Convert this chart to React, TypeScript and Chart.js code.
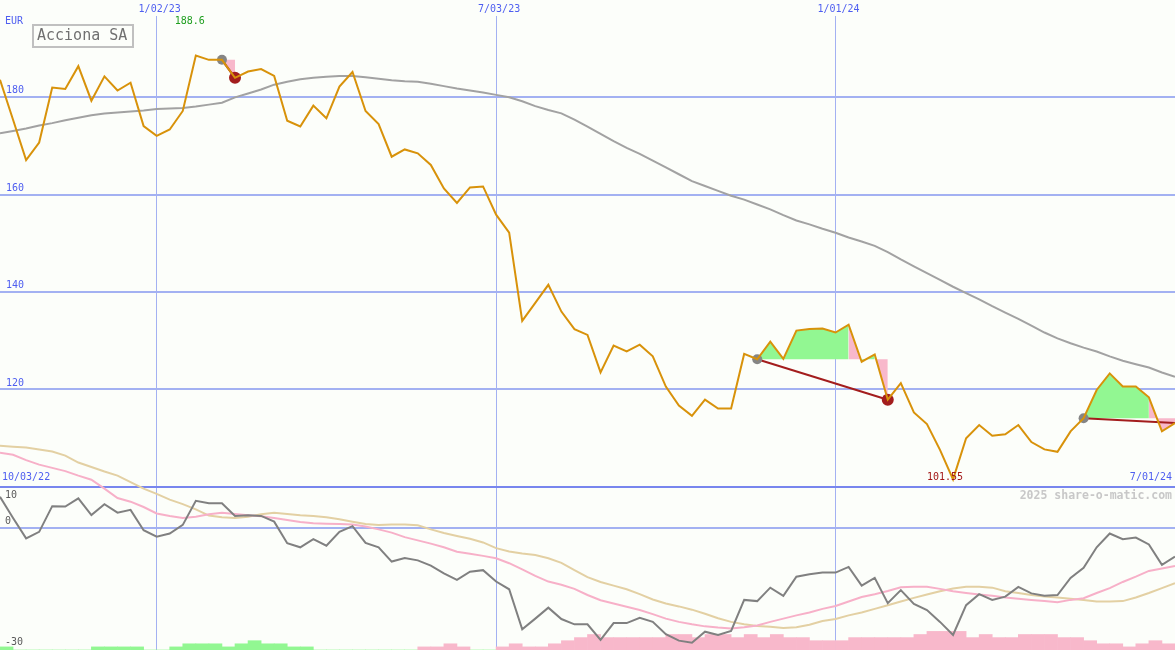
import React, { useEffect, useRef } from "react";
import { Chart, registerables } from "chart.js";

Chart.register(...registerables);

// ---------- data ----------
const weekIndex = Array.from({ length: 91 }, (_, i) => i);
const dateTickIndex = [12, 38, 64];
const dateTickLabels = ["1/02/23", "7/03/23", "1/01/24"];
const rangeStartLabel = "10/03/22";
const rangeEndLabel = "7/01/24";
const priceTicks = [100, 120, 140, 160, 180];
const oscTicks = [10, 0, -30];
const currencyLabel = "EUR";
const titleLabel = "Acciona SA";
const creditLabel = "2025 share-o-matic.com";

const price = [
  183.6, 175.4, 167.1, 170.7, 182.0, 181.7, 186.4, 179.3, 184.3, 181.4,
  183.0, 174.1, 172.1, 173.4, 177.2, 188.6, 187.7, 187.7, 184.0, 185.3,
  185.8, 184.4, 175.2, 174.0, 178.3, 175.7, 182.2, 185.2, 177.2, 174.5,
  167.8, 169.3, 168.5, 166.1, 161.3, 158.3, 161.5, 161.7, 155.9, 152.2,
  134.1, 137.8, 141.5, 136.0, 132.4, 131.2, 123.5, 129.0, 127.8, 129.2,
  126.8, 120.6, 116.7, 114.6, 117.9, 116.1, 116.1, 127.3, 126.2, 129.8,
  126.3, 132.1, 132.4, 132.5, 131.7, 133.3, 125.7, 127.2, 117.9, 121.3,
  115.3, 112.9, 107.6, 101.55, 110.0, 112.7, 110.5, 110.8, 112.7, 109.2,
  107.7, 107.2, 111.4, 114.1, 119.9, 123.3, 120.6, 120.6, 118.4, 111.4,
  113.1,
];

const movingAvg = [
  172.6, 173.1, 173.6, 174.2, 174.7, 175.3, 175.8, 176.3, 176.7, 176.9,
  177.1, 177.3, 177.6, 177.7, 177.8, 178.1, 178.5, 178.9, 180.0, 180.8,
  181.6, 182.6, 183.2, 183.7, 184.0, 184.2, 184.4, 184.4, 184.1, 183.8,
  183.5, 183.3, 183.2, 182.8, 182.3, 181.8, 181.4, 181.0, 180.5, 180.0,
  179.2, 178.2, 177.4, 176.7, 175.4, 174.0, 172.5, 171.0, 169.6, 168.4,
  167.0, 165.6, 164.2, 162.8, 161.8, 160.8, 159.8, 159.0, 158.0, 157.0,
  155.8, 154.7, 153.9, 153.0, 152.2, 151.2, 150.4, 149.5, 148.2, 146.7,
  145.3, 143.9, 142.5, 141.1, 139.8, 138.5, 137.1, 135.8, 134.5, 133.1,
  131.7, 130.5, 129.5, 128.6, 127.8, 126.8, 125.9, 125.2, 124.5, 123.5,
  122.6,
];

const oscillator = [
  7.6, 2.4, -2.6, -1.0, 5.3, 5.2, 7.2, 3.1, 5.8, 3.7,
  4.4, -0.6, -2.2, -1.4, 0.7, 6.6, 6.0, 6.0, 2.9, 3.1,
  2.9, 1.5, -3.8, -4.8, -2.8, -4.4, -1.0, 0.4, -3.7, -4.8,
  -8.3, -7.4, -8.0, -9.3, -11.2, -12.8, -10.8, -10.4, -13.2, -15.1,
  -24.9, -22.3, -19.6, -22.4, -23.7, -23.7, -27.5, -23.4, -23.4, -22.1,
  -23.1, -26.1, -27.7, -28.2, -25.5, -26.3, -25.3, -17.7, -18.0, -14.7,
  -16.7, -12.0, -11.4, -11.0, -11.0, -9.6, -14.2, -12.3, -18.5, -15.3,
  -18.7, -20.2, -23.1, -26.3, -19.0, -16.3, -17.7, -16.9, -14.5, -16.1,
  -16.7, -16.5, -12.3, -9.8, -4.8, -1.4, -2.8, -2.4, -4.1, -9.1,
  -7.1,
];

const oscFast = [
  18.4, 17.9, 16.6, 15.5, 14.7, 13.9, 12.8, 11.8, 9.6, 7.3,
  6.4, 5.1, 3.5, 2.9, 2.4, 2.7, 3.3, 3.7, 3.4, 3.1,
  2.8, 2.4, 1.9, 1.4, 1.1, 1.0, 0.9, 0.8, 0.3, -0.4,
  -1.2, -2.3, -3.1, -3.9, -4.8, -5.9, -6.4, -6.9, -7.5, -8.7,
  -10.2, -11.8, -13.2, -14.0, -15.0, -16.5, -17.8, -18.6, -19.4, -20.2,
  -21.2, -22.3, -23.1, -23.7, -24.2, -24.5, -24.7, -24.4, -24.0, -23.1,
  -22.3, -21.5, -20.8, -19.9, -19.2, -18.1, -17.0, -16.3, -15.5, -14.6,
  -14.5, -14.5, -15.0, -15.6, -16.0, -16.4, -16.7, -17.1, -17.4, -17.7,
  -18.0, -18.3, -17.7, -17.3, -16.0, -14.8, -13.3, -12.0, -10.6, -10.0,
  -9.4,
];

const oscSlow = [
  20.1, 19.9, 19.7, 19.2, 18.7, 17.7, 16.0, 14.9, 13.8, 12.8,
  11.2, 9.6, 8.3, 6.9, 5.8, 4.5, 3.0, 2.6, 2.4, 2.7,
  3.3, 3.7, 3.4, 3.1, 2.9, 2.6, 2.1, 1.5, 0.9, 0.7,
  0.8, 0.8, 0.6, -0.4, -1.3, -2.0, -2.7, -3.6, -5.0, -5.8,
  -6.3, -6.7, -7.5, -8.6, -10.4, -12.1, -13.3, -14.2, -15.1, -16.3,
  -17.6, -18.6, -19.3, -20.1, -21.1, -22.2, -23.1, -23.7, -24.1, -24.3,
  -24.6, -24.4, -23.8, -22.9, -22.4, -21.5, -20.8, -19.9, -19.0, -18.1,
  -17.2, -16.4, -15.6, -14.9, -14.5, -14.5, -14.7, -15.6, -16.0, -16.5,
  -16.9, -17.1, -17.4, -17.7, -18.1, -18.1, -18.0, -17.1, -16.0, -14.8,
  -13.6,
];

const histogram = [
  1, 0, 0, 0, 0, 0, 0, 1, 1, 1,
  1, 0, 0, 1, 2, 2, 2, 1, 2, 3,
  2, 2, 1, 1, 0, 0, 0, 0, 0, 0,
  0, 0, -1, -1, -2, -1, 0, 0, -1, -2,
  -1, -1, -2, -3, -4, -5, -4, -4, -4, -4,
  -4, -5, -5, -4, -5, -5, -4, -5, -4, -5,
  -4, -4, -3, -3, -3, -4, -4, -4, -4, -4,
  -5, -6, -6, -6, -4, -5, -4, -4, -5, -5,
  -5, -4, -4, -3, -2, -2, -1, -2, -3, -2,
];

const eventStart = [17, 58, 83];
const eventEnd = [18, 68, 90];
const eventClosed = [true, true, false];

// ---------- styles ----------
const MONO = "'DejaVu Sans Mono', monospace";
const BG = "#fcfefa";
const GRID = "#a3b1f2";
const SEP = "#7886ee";
const BLUE_TEXT = "#4e5ef0";
const PRICE_C = "#d8920a";
const MA_C = "#a2a2a2";
const OSC_C = "#808080";
const FAST_C = "#f7b0c8";
const SLOW_C = "#e3d0a3";
const GREEN_F = "#92f792";
const PINK_F = "#f8b8cb";
const TREND_C = "#a31d1d";
const MARK_GRAY = "#858585";

const bgPlugin = {
  id: "bg",
  beforeDraw(chart: any) {
    const { ctx, width, height } = chart;
    ctx.save();
    ctx.fillStyle = BG;
    ctx.fillRect(0, 0, width, height);
    ctx.restore();
  },
};

const textPlugin = {
  id: "texts",
  afterDraw(chart: any) {
    const { ctx, chartArea, scales } = chart;
    const xs = scales.x;
    const ys = scales.y;
    const y2 = scales.y2;
    ctx.save();
    ctx.textBaseline = "middle";
    ctx.font = `10px ${MONO}`;

    ctx.fillStyle = BLUE_TEXT;
    ctx.textAlign = "left";
    ctx.fillText(currencyLabel, 5, chartArea.top + 5);
    const sepY = ys.getPixelForValue(priceTicks[0]);
    ctx.fillText(rangeStartLabel, 2, sepY - 9);
    ctx.textAlign = "right";
    ctx.fillText(rangeEndLabel, 1172, sepY - 9);

    // max / min
    let iMax = 0;
    let iMin = 0;
    price.forEach((v, i) => {
      if (v > price[iMax]) iMax = i;
      if (v < price[iMin]) iMin = i;
    });
    ctx.textAlign = "center";
    ctx.fillStyle = "#1e9e1e";
    ctx.fillText(String(price[iMax]), xs.getPixelForValue(iMax) - 6, chartArea.top + 5);
    ctx.fillStyle = "#a31818";
    ctx.fillText(String(price[iMin]), xs.getPixelForValue(iMin) - 8, sepY - 9);

    // oscillator labels
    ctx.textAlign = "left";
    ctx.fillStyle = "#5a5a5a";
    const offs = [8.7, -6, -8];
    oscTicks.forEach((v, k) => {
      ctx.fillText(String(v), 5, y2.getPixelForValue(v) + offs[k]);
    });

    // credit
    ctx.font = `bold 11.5px ${MONO}`;
    ctx.fillStyle = "#c8c8c8";
    ctx.textAlign = "right";
    ctx.fillText(creditLabel, 1172, sepY + 9);

    // title box
    ctx.strokeStyle = "#c0c0c0";
    ctx.lineWidth = 2;
    ctx.strokeRect(33, 25, 100, 22);
    ctx.font = `15px ${MONO}`;
    ctx.fillStyle = "#707070";
    ctx.textAlign = "left";
    ctx.fillText(titleLabel, 37, 36.5);
    ctx.restore();
  },
};

function buildConfig(): any {
  const lineBase = {
    type: "line",
    pointRadius: 0,
    borderWidth: 2,
    tension: 0,
    fill: false,
  };

  const datasets: any[] = [];

  datasets.push({
    type: "bar",
    yAxisID: "yh",
    data: histogram.map((v, i) => ({ x: i + 0.5, y: Math.abs(v) })),
    backgroundColor: histogram.map((v) => (v >= 0 ? GREEN_F : PINK_F)),
    borderWidth: 0,
    barPercentage: 1,
    categoryPercentage: 1,
    order: 20,
  });

  datasets.push({ ...lineBase, yAxisID: "y2", data: oscSlow, borderColor: SLOW_C, order: 19 });
  datasets.push({ ...lineBase, yAxisID: "y2", data: oscFast, borderColor: FAST_C, order: 18 });
  datasets.push({ ...lineBase, yAxisID: "y2", data: oscillator, borderColor: OSC_C, order: 17 });
  datasets.push({ ...lineBase, yAxisID: "y", data: movingAvg, borderColor: MA_C, order: 16 });

  eventStart.forEach((s, k) => {
    const e = eventEnd[k];
    const level = price[s];
    datasets.push({
      type: "line",
      yAxisID: "y",
      data: price.map((v, i) => (i >= s && i <= e ? v : null)),
      borderWidth: 0,
      borderColor: "rgba(0,0,0,0)",
      backgroundColor: GREEN_F,
      pointRadius: 0,
      tension: 0,
      spanGaps: false,
      fill: { value: level },
      segment: {
        backgroundColor: (c: any) => (c.p1.parsed.y < level ? PINK_F : GREEN_F),
      },
      order: 10,
    });
    datasets.push({
      type: "line",
      yAxisID: "y",
      data: [
        { x: s, y: price[s] },
        { x: e, y: price[e] },
      ],
      borderColor: TREND_C,
      borderWidth: 2,
      pointRadius: 0,
      fill: false,
      order: 8,
    });
    datasets.push({
      type: "line",
      yAxisID: "y",
      showLine: false,
      data: [{ x: s, y: price[s] }],
      pointRadius: 5,
      pointBorderWidth: 0,
      pointBackgroundColor: MARK_GRAY,
      order: 6,
    });
    if (eventClosed[k]) {
      datasets.push({
        type: "line",
        yAxisID: "y",
        showLine: false,
        data: [{ x: e, y: price[e] }],
        pointRadius: 6,
        pointBorderWidth: 0,
        pointBackgroundColor: TREND_C,
        order: 5,
      });
    }
  });

  datasets.push({ ...lineBase, yAxisID: "y", data: price, borderColor: PRICE_C, order: 1 });

  const zeroFit = (s: any) => {
    s.width = 0;
    s.paddingTop = 0;
    s.paddingBottom = 0;
    s.paddingLeft = 0;
    s.paddingRight = 0;
  };

  return {
    type: "line",
    data: { labels: weekIndex, datasets },
    options: {
      responsive: false,
      animation: false,
      devicePixelRatio: 1,
      events: [],
      layout: { padding: 0, autoPadding: false },
      plugins: {
        legend: { display: false },
        tooltip: { enabled: false },
        title: { display: false },
      },
      scales: {
        x: {
          type: "linear",
          position: "top",
          offset: false,
          min: 0,
          max: weekIndex.length - 1,
          border: { display: false },
          grid: { color: GRID, lineWidth: 1, drawTicks: false, offset: false },
          afterBuildTicks: (ax: any) => {
            ax.ticks = dateTickIndex.map((v) => ({ value: v }));
          },
          afterFit: (s: any) => {
            s.height = 16;
            s.paddingLeft = 0;
            s.paddingRight = 0;
          },
          ticks: {
            autoSkip: false,
            maxRotation: 0,
            padding: 1,
            labelOffset: 3,
            color: BLUE_TEXT,
            font: { family: MONO, size: 10 },
            callback: (v: any) => {
              const k = dateTickIndex.indexOf(v);
              return k >= 0 ? dateTickLabels[k] : "";
            },
          },
        },
        y: {
          type: "linear",
          position: "left",
          min: 66.5,
          max: 196.7,
          border: { display: false },
          grid: {
            color: (c: any) => (c.tick && c.tick.value === priceTicks[0] ? SEP : GRID),
            lineWidth: 2,
            drawTicks: false,
          },
          afterBuildTicks: (ax: any) => {
            ax.ticks = priceTicks.map((v) => ({ value: v }));
          },
          afterFit: zeroFit,
          ticks: {
            mirror: true,
            padding: 6,
            labelOffset: -6.5,
            color: BLUE_TEXT,
            font: { family: MONO, size: 10 },
            callback: (v: any) => (v === priceTicks[0] ? "" : String(v)),
          },
        },
        y2: {
          type: "linear",
          position: "left",
          min: oscTicks[2],
          max: 125.6,
          border: { display: false },
          grid: { color: GRID, lineWidth: 2, drawTicks: false },
          afterBuildTicks: (ax: any) => {
            ax.ticks = [{ value: 0 }];
          },
          afterFit: zeroFit,
          ticks: { display: false },
        },
        yh: {
          type: "linear",
          display: false,
          min: 0,
          max: 204.5,
        },
      },
    },
    plugins: [bgPlugin, textPlugin],
  };
}

export default function App() {
  const ref = useRef<HTMLCanvasElement>(null);
  useEffect(() => {
    const canvas = ref.current;
    if (!canvas) return;
    const chart = new Chart(canvas, buildConfig());
    return () => chart.destroy();
  }, []);
  return (
    <div style={{ position: "fixed", left: 0, top: 0, width: 1175, height: 650, background: BG }}>
      <canvas ref={ref} width={1175} height={650} style={{ display: "block", width: 1175, height: 650 }} />
    </div>
  );
}
